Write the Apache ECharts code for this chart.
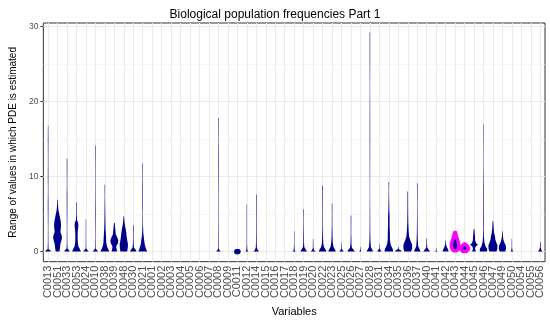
<!DOCTYPE html>
<html>
<head>
<meta charset="utf-8">
<script src="https://cdn.jsdelivr.net/npm/echarts@6/dist/echarts.min.js"></script>
<style>html,body{margin:0;padding:0;background:#fff}#chart{width:550px;height:322px}</style>
</head>
<body>
<div id="chart"></div>
<script>
const titleText = 'Biological population frequencies Part 1';
const xTitle = 'Variables';
const yTitle = 'Range of values in which PDE is estimated';

const categories = ['C0013','C0051','C0033','C0053','C0024','C0010','C0038','C0039','C0048','C0030','C0021',
  'C0001','C0002','C0003','C0004','C0005','C0006','C0007','C0008','C0009','C0011','C0012','C0014','C0015',
  'C0016','C0017','C0018','C0019','C0020','C0022','C0023','C0025','C0026','C0027','C0028','C0031','C0034',
  'C0035','C0036','C0037','C0040','C0041','C0042','C0043','C0044','C0045','C0046','C0047','C0049','C0050',
  'C0054','C0055','C0056'];

const highlighted = ['C0043','C0044'];
const yTicks = [0, 10, 20, 30];
const yMinor = [5, 15, 25];

// violin profiles: [value, half width (fraction of category band)], bottom to top; null = no violin
const violinProfiles = [
  [[0,0.3],[0.15,0.25],[0.3,0.05],[1,0.03],[3,0.02],[5,0.03],[6.3,0.035],[8,0.02],[10,0.03],[12,0.02],[15,0.03],[16.8,0.02]],
  [[0,0.2],[0.5,0.26],[1.0,0.3],[1.5,0.42],[1.9,0.47],[2.3,0.4],[2.6,0.3],[3.0,0.34],[3.5,0.37],[4.0,0.34],[4.5,0.26],[5.0,0.18],[5.5,0.1],[6.0,0.06],[6.5,0.04],[6.9,0.03]],
  [[0,0.3],[0.2,0.2],[0.4,0.05],[1,0.03],[3,0.02],[5,0.03],[7.5,0.035],[9,0.02],[11,0.03],[12.4,0.03]],
  [[0,0.46],[0.3,0.36],[0.7,0.2],[1.2,0.14],[2,0.12],[2.8,0.14],[3.4,0.2],[3.8,0.18],[4.2,0.06],[5,0.03],[6.5,0.03]],
  [[0,0.3],[0.2,0.15],[0.4,0.03],[2,0.02],[4.3,0.02]],
  [[0,0.3],[0.2,0.15],[0.4,0.03],[2,0.02],[5,0.03],[8,0.02],[11,0.02],[14.1,0.03]],
  [[0,0.46],[0.3,0.36],[0.7,0.22],[1.2,0.15],[2,0.12],[3,0.07],[4,0.05],[5,0.04],[6,0.03],[7.5,0.02],[8.9,0.03]],
  [[0,0.3],[0.4,0.22],[0.7,0.2],[1.1,0.38],[1.5,0.42],[1.9,0.3],[2.3,0.15],[3,0.1],[3.8,0.04]],
  [[0,0.36],[0.5,0.42],[1,0.44],[1.5,0.36],[2,0.3],[2.5,0.26],[3,0.2],[3.5,0.12],[4,0.07],[4.7,0.03]],
  [[0,0.35],[0.25,0.25],[0.5,0.08],[1,0.04],[2,0.025],[3.5,0.03]],
  [[0,0.46],[0.4,0.34],[0.9,0.22],[1.5,0.15],[2.0,0.1],[2.5,0.06],[3.5,0.03],[5,0.02],[6,0.03],[8.6,0.03],[10,0.02],[11.7,0.03]],
  null, null, null, null, null, null, null,
  [[0,0.25],[0.2,0.1],[0.4,0.03],[2,0.025],[4,0.02],[7,0.02],[12.2,0.03],[15,0.02],[17.8,0.03]],
  null,
  [[-0.35,0.15],[-0.25,0.3],[0,0.35],[0.25,0.3],[0.35,0.15]],
  [[0,0.15],[0.2,0.05],[1,0.02],[3,0.02],[6.3,0.02]],
  [[0,0.3],[0.2,0.15],[0.5,0.06],[1,0.04],[2,0.03],[4,0.025],[7.6,0.03]],
  null, null, null,
  [[0,0.15],[0.2,0.05],[1,0.02],[2.7,0.02]],
  [[0,0.35],[0.3,0.2],[0.6,0.07],[1.2,0.04],[2.5,0.03],[4,0.02],[5.6,0.03]],
  [[0,0.25],[0.2,0.1],[0.5,0.03],[1.7,0.02]],
  [[0,0.42],[0.3,0.3],[0.6,0.15],[1,0.08],[1.7,0.05],[3,0.03],[5,0.025],[7,0.03],[8.8,0.03]],
  [[0,0.4],[0.3,0.3],[0.6,0.16],[1.2,0.08],[2,0.05],[3.5,0.03],[5,0.025],[6.4,0.03]],
  [[0,0.25],[0.2,0.1],[0.4,0.03],[1.2,0.02]],
  [[0,0.4],[0.25,0.28],[0.5,0.1],[1,0.05],[2.5,0.025],[4.8,0.03]],
  [[0,0.1],[0.2,0.03],[0.6,0.02]],
  [[0,0.35],[0.3,0.22],[0.6,0.1],[1.5,0.05],[3,0.03],[8,0.015],[14.5,0.025],[17.6,0.025],[22,0.015],[25.4,0.025],[29.2,0.025]],
  [[0,0.25],[0.2,0.12],[0.4,0.03],[1,0.02]],
  [[0,0.46],[0.3,0.42],[0.6,0.3],[1,0.18],[1.5,0.12],[2.4,0.11],[3.5,0.08],[4.7,0.08],[5.5,0.05],[7,0.03],[8,0.02],[9.3,0.03]],
  [[0,0.32],[0.15,0.3],[0.3,0.06],[0.6,0.02]],
  [[0,0.36],[0.4,0.46],[0.9,0.46],[1.4,0.3],[2,0.14],[3,0.08],[4,0.05],[5.5,0.035],[8,0.03]],
  [[0,0.35],[0.3,0.25],[0.7,0.1],[1.5,0.06],[2.5,0.04],[4,0.03],[6,0.02],[9.1,0.03]],
  [[0,0.35],[0.25,0.22],[0.5,0.06],[1,0.03],[1.7,0.03]],
  [[0,0.12],[0.15,0.03],[0.5,0.02]],
  [[0,0.32],[0.3,0.25],[0.6,0.12],[1,0.04],[1.5,0.02]],
  [[0.1,0.1],[0.3,0.3],[0.7,0.4],[1.1,0.38],[1.6,0.25],[2.1,0.12],[2.55,0.04]],
  [[0.05,0.2],[0.3,0.4],[0.6,0.36],[0.85,0.18],[1.0,0.05]],
  [[0,0.2],[0.4,0.1],[0.7,0.2],[0.9,0.42],[1.1,0.22],[1.5,0.12],[2,0.1],[2.5,0.07],[3,0.04]],
  [[0,0.36],[0.3,0.4],[0.7,0.22],[1.2,0.1],[1.9,0.05],[3,0.03],[4.4,0.035],[6.7,0.03],[8.4,0.03],[12,0.015],[16.9,0.025]],
  [[0,0.36],[0.3,0.46],[0.8,0.48],[1.2,0.36],[1.6,0.25],[2.0,0.22],[2.5,0.12],[3,0.08],[3.5,0.06],[4.1,0.03]],
  [[0,0.3],[0.4,0.38],[0.8,0.36],[1.2,0.2],[1.6,0.1],[2.1,0.05],[2.75,0.02]],
  [[0,0.15],[0.2,0.05],[0.6,0.02],[1.7,0.02]],
  null, null,
  [[0,0.25],[0.2,0.12],[0.5,0.04],[1.3,0.03]]
];

const FONT = 'Liberation Sans, Arial, sans-serif';
const chart = echarts.init(document.getElementById('chart'), null, {renderer: 'canvas'});

const violinData = [];
violinProfiles.forEach((p, i) => { if (p) violinData.push([i, 0]); });

function renderViolin(params, api) {
  const i = api.value(0);
  const prof = violinProfiles[i];
  const band = api.size([1, 0])[0];
  const right = [], left = [];
  prof.forEach(([v, hw]) => {
    const pt = api.coord([i, v]);
    right.push([pt[0] + hw * band, pt[1]]);
    left.unshift([pt[0] - hw * band, pt[1]]);
  });
  const hl = highlighted.indexOf(categories[i]) >= 0;
  return {
    type: 'polygon',
    shape: {points: right.concat(left)},
    style: {fill: '#00008B', stroke: hl ? '#FF00FF' : null, lineWidth: hl ? 3.5 : 0, lineJoin: 'round'},
    z2: hl ? 10 : 1
  };
}

const gridLines = [];
categories.forEach(c => gridLines.push({xAxis: c, lineStyle: {color: '#ebebeb', width: 1, type: 'solid'}}));
yTicks.forEach(v => gridLines.push({yAxis: v, lineStyle: {color: '#ebebeb', width: 1, type: 'solid'}}));
yMinor.forEach(v => gridLines.push({yAxis: v, lineStyle: {color: '#f2f2f2', width: 0.6, type: 'solid'}}));

chart.setOption({
  animation: false,
  backgroundColor: '#fff',
  title: {
    text: titleText, left: 'center', top: 4,
    textStyle: {fontFamily: FONT, fontSize: 12, fontWeight: 'normal', color: '#000'}
  },
  grid: {left: 36, right: 5, top: 23, bottom: 55, show: true, borderColor: '#333', borderWidth: 1, backgroundColor: '#fff'},
  xAxis: {
    type: 'category', data: categories,
    name: xTitle, nameLocation: 'middle', nameGap: 41,
    nameTextStyle: {fontFamily: FONT, fontSize: 11, color: '#000'},
    axisLine: {show: false},
    axisTick: {show: true, alignWithLabel: true, interval: 0, length: 3, lineStyle: {color: '#333'}},
    axisLabel: {interval: 0, rotate: 90, margin: 4, fontFamily: FONT, fontSize: 11, color: '#4d4d4d'},
    splitLine: {show: false}
  },
  yAxis: {
    type: 'value', min: -1.35, max: 30.45,
    name: yTitle, nameLocation: 'middle', nameGap: 22, nameRotate: 90,
    nameTextStyle: {fontFamily: FONT, fontSize: 10, color: '#000'},
    axisLine: {show: false},
    axisTick: {show: true, length: 3, customValues: yTicks, lineStyle: {color: '#333'}},
    axisLabel: {customValues: yTicks, margin: 5, fontFamily: FONT, fontSize: 8.5, color: '#4d4d4d'},
    splitLine: {show: false}
  },
  series: [
    {
      type: 'line', data: [], z: 1, silent: true,
      markLine: {z: 1, silent: true, symbol: ['none', 'none'], label: {show: false}, animation: false,
        lineStyle: {type: 'solid'}, data: gridLines}
    },
    {
      type: 'custom', z: 10, renderItem: renderViolin, data: violinData,
      encode: {x: 0, y: 1}, clip: true
    }
  ]
});
</script>
</body>
</html>
